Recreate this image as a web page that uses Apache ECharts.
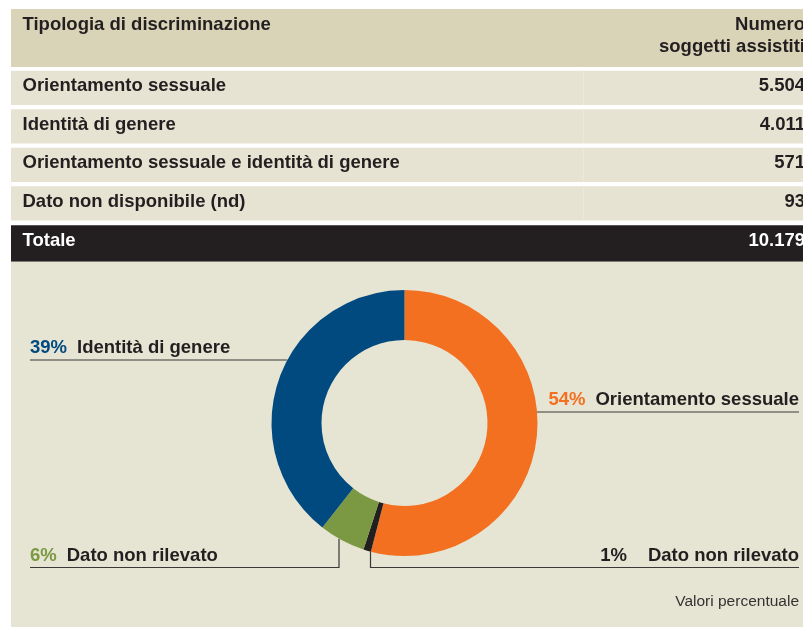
<!DOCTYPE html>
<html>
<head>
<meta charset="utf-8">
<script src="https://cdn.jsdelivr.net/npm/echarts@6/dist/echarts.min.js"></script>
<style>
  html, body { margin: 0; padding: 0; background: #fff; }
  #chart { width: 803px; height: 627px; }
</style>
</head>
<body>
<div id="chart"></div>
<script>
// dati della tabella
const headerLeft = 'Tipologia di discriminazione';
const headerRight = ['Numero', 'soggetti assistiti'];
const categories = [
  'Orientamento sessuale',
  'Identità di genere',
  'Orientamento sessuale e identità di genere',
  'Dato non disponibile (nd)'
];
const counts = [5504, 4011, 571, 93];
const totalName = 'Totale';
const total = 10179;

// dati della ciambella (senso orario dalle ore 12)
const sliceNames = ['Orientamento sessuale', 'Dato non rilevato', 'Dato non rilevato', 'Identità di genere'];
const sliceValues = [5504, 93, 571, 4011];
const noteText = 'Valori percentuale';

// stile
const FONT = '"Liberation Sans", Arial, sans-serif';
const TFONT = 'bold 18.5px ' + FONT;
const INK = '#231f20';
const sliceColors = ['#f37021', '#231f20', '#7b9842', '#004a7f'];
const CX = 404.5, CY = 423, R_IN = 83, R_OUT = 133;
// posizione delle etichette: lato, quota della linea, eventuale gomito
const labelSpots = [
  { side: 'right', lineY: 412 },
  { side: 'right', lineY: 567.5, elbowX: 370.5 },
  { side: 'left', lineY: 567.5, elbowX: 339 },
  { side: 'left', lineY: 360 }
];
const LEFT_END = 30, RIGHT_END = 799;

function fmt(n) {
  return String(n).replace(/\B(?=(\d{3})+(?!\d))/g, '.');
}

// tabella costruita con elementi grafici
const elements = [];
const X0 = 11, W = 800, RIGHT_X = 805;
elements.push({ type: 'rect', z: 0, shape: { x: X0, y: 9, width: W, height: 58 }, style: { fill: '#d9d4b7' } });
elements.push({ type: 'text', z: 1, style: { text: headerLeft, x: 22.5, y: 25, font: TFONT, fill: INK, align: 'left', verticalAlign: 'middle' } });
headerRight.forEach(function (t, i) {
  elements.push({ type: 'text', z: 1, style: { text: t, x: RIGHT_X, y: 25 + i * 21.7, font: TFONT, fill: INK, align: 'right', verticalAlign: 'middle' } });
});
categories.forEach(function (name, i) {
  const top = 70.7 + i * 38.5;
  elements.push({ type: 'rect', z: 0, shape: { x: X0, y: top, width: W, height: 34.3 }, style: { fill: '#e6e3d2' } });
  elements.push({ type: 'rect', z: 0, shape: { x: 583, y: top, width: 1, height: 34.3 }, style: { fill: '#ebe9db' } });
  elements.push({ type: 'text', z: 1, style: { text: name, x: 22.5, y: top + 15.5, font: TFONT, fill: INK, align: 'left', verticalAlign: 'middle' } });
  elements.push({ type: 'text', z: 1, style: { text: fmt(counts[i]), x: RIGHT_X, y: top + 15.5, font: TFONT, fill: INK, align: 'right', verticalAlign: 'middle' } });
});
elements.push({ type: 'rect', z: 0, shape: { x: X0, y: 225.3, width: W, height: 36.5 }, style: { fill: INK } });
elements.push({ type: 'text', z: 1, style: { text: totalName, x: 22.5, y: 241, font: TFONT, fill: '#fff', align: 'left', verticalAlign: 'middle' } });
elements.push({ type: 'text', z: 1, style: { text: fmt(total), x: RIGHT_X, y: 241, font: TFONT, fill: '#fff', align: 'right', verticalAlign: 'middle' } });
// pannello del grafico
elements.push({ type: 'rect', z: 0, shape: { x: X0, y: 261.8, width: W, height: 366 }, style: { fill: '#e6e4d3' } });
elements.push({ type: 'text', z: 1, style: { text: noteText, x: RIGHT_END, y: 602, font: '15.5px ' + FONT, fill: '#333', align: 'right', verticalAlign: 'middle' } });

const rich = {};
sliceColors.forEach(function (c, i) {
  rich['p' + i] = { color: i === 1 ? INK : c, fontSize: 18.5, fontWeight: 'bold', fontFamily: FONT };
  rich['n' + i] = { color: INK, fontSize: 18.5, fontWeight: 'bold', fontFamily: FONT, padding: [0, 0, 0, i === 1 ? 21 : 10] };
});

const chart = echarts.init(document.getElementById('chart'));
chart.setOption({
  backgroundColor: '#fff',
  animation: false,
  graphic: { elements: elements },
  series: [{
    type: 'pie',
    z: 5,
    center: [CX, CY],
    radius: [R_IN, R_OUT],
    startAngle: 90,
    clockwise: true,
    percentPrecision: 0,
    silent: true,
    data: sliceValues.map(function (v, i) {
      return { value: v, name: sliceNames[i], itemStyle: { color: sliceColors[i] } };
    }),
    label: {
      show: true,
      position: 'outside',
      width: 400,
      overflow: 'none',
      formatter: function (p) {
        return '{p' + p.dataIndex + '|' + p.percent + '%}{n' + p.dataIndex + '|' + p.name + '}';
      },
      rich: rich
    },
    labelLine: {
      show: true,
      lineStyle: { color: '#3b3838', width: 1.2 }
    },
    labelLayout: function (p) {
      const s = labelSpots[p.dataIndex];
      const endX = s.side === 'left' ? LEFT_END : RIGHT_END;
      let pts;
      if (s.elbowX != null) {
        const dx = s.elbowX - CX;
        const ey = CY + Math.sqrt(R_OUT * R_OUT - dx * dx);
        pts = [[s.elbowX, ey], [s.elbowX, s.lineY], [endX, s.lineY]];
      } else {
        const dy = s.lineY - CY;
        const off = Math.sqrt(R_OUT * R_OUT - dy * dy);
        const ex = s.side === 'left' ? CX - off : CX + off;
        pts = [[ex, s.lineY], [ex, s.lineY], [endX, s.lineY]];
      }
      return {
        x: endX,
        y: s.lineY - 12,
        align: s.side === 'left' ? 'left' : 'right',
        verticalAlign: 'middle',
        labelLinePoints: pts
      };
    }
  }]
});
</script>
</body>
</html>
